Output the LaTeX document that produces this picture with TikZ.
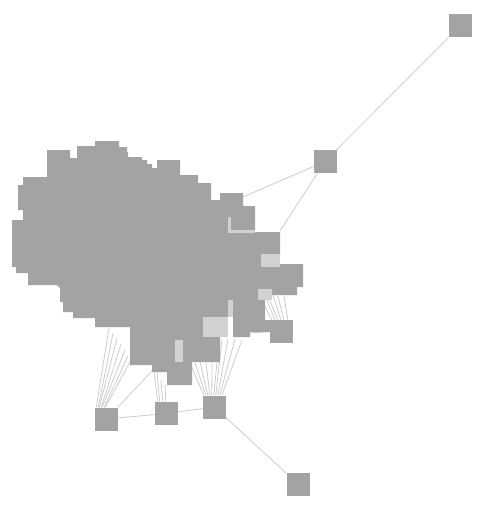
\documentclass[tikz,border=0pt]{standalone}
\begin{document}
\begin{tikzpicture}[x=1pt,y=-1pt,
  vertex/.style={rectangle,fill=nodegray,draw=none,inner sep=0pt,minimum size=23pt},
  link/.style={draw=edgegray,line width=0.8pt},
  patch/.style={fill=patchgray,draw=none}]
\definecolor{nodegray}{HTML}{A3A3A3}
\definecolor{edgegray}{HTML}{CCCCCC}
\definecolor{patchgray}{HTML}{D2D2D2}
\useasboundingbox (0,0) rectangle (481,511);
% separate vertices
\node[vertex] (n1) at (460,26) {};
\node[vertex] (n2) at (325,161.5) {};
\node[vertex] (n7) at (281.5,331.5) {};
\node[vertex] (b1) at (106,419) {};
\node[vertex] (b2) at (166.5,413.5) {};
\node[vertex] (b3) at (214.5,407) {};
\node[vertex] (b4) at (298,484) {};
% anchor points on the cluster
\coordinate (c1) at (243,197);
\coordinate (c2) at (280,231);
\coordinate (l1) at (109,328);
\coordinate (l2) at (113,333);
\coordinate (l3) at (117,338);
\coordinate (l4) at (121,344);
\coordinate (l5) at (125,350);
\coordinate (l6) at (128,356);
\coordinate (l7) at (130,362);
\coordinate (ld) at (152,371);
\coordinate (m1) at (154,372);
\coordinate (m2) at (157,372);
\coordinate (m3) at (161,380);
\coordinate (m4) at (165,384);
\coordinate (r1) at (192,368);
\coordinate (r2) at (195,363);
\coordinate (r3) at (200,362);
\coordinate (r4) at (206,362);
\coordinate (r5) at (212,362);
\coordinate (r6) at (218,352);
\coordinate (r7) at (222,339);
\coordinate (r8) at (228,339);
\coordinate (r9) at (235,339);
\coordinate (r10) at (242,340);
\coordinate (s1) at (260,297);
\coordinate (s2) at (264,293);
\coordinate (s3) at (268,296);
\coordinate (s4) at (272,292);
\coordinate (s5) at (278,296);
\coordinate (s6) at (284,296);
\coordinate (sw) at (250,333);
% connectors
\draw[link] (n1) -- (n2);
\draw[link] (n2) -- (c1);
\draw[link] (n2) -- (c2);
\foreach \i/\d in {1/2,2/4,3/5,4/7,5/8,6/10,7/11}
  \draw[link] ([xshift=\d pt]b1.north west) -- (l\i);
\draw[link] (b1.north east) -- (ld);
\foreach \i/\d in {1/3,2/5,3/8,4/11}
  \draw[link] ([xshift=\d pt]b2.north west) -- (m\i);
\foreach \i/\d in {1/1,2/3,3/5,4/7,5/9,6/11,7/13,8/15,9/17,10/19}
  \draw[link] ([xshift=\d pt]b3.north west) -- (r\i);
\foreach \i/\d in {1/2,2/5,3/8,4/11,5/14,6/18}
  \draw[link] ([xshift=\d pt]n7.north west) -- (s\i);
\draw[link] (n7.west) -- (sw);
\draw[link] (b1) -- (b2);
\draw[link] (b2) -- (b3);
\draw[link] (b3) -- (b4);
% the dense cluster of overlapping vertices
\fill[nodegray] (47,150) -- (70,150) -- (70,158) -- (77,158) -- (77,146) -- (95,146) -- (95,141)
  -- (119,141) -- (119,147) -- (127,147) -- (127,152) -- (128,152) -- (128,157) -- (142,157)
  -- (142,160) -- (147,160) -- (147,164) -- (152,164) -- (152,168) -- (157,168) -- (157,160)
  -- (180,160) -- (180,175) -- (198,175) -- (198,183) -- (211,183) -- (211,200) -- (220,200)
  -- (220,193) -- (243,193) -- (243,206) -- (255,206) -- (255,232) -- (280,232) -- (280,254)
  -- (261,254) -- (261,267) -- (280,267) -- (280,264) -- (303,264) -- (303,287) -- (297,287)
  -- (297,295) -- (272,295) -- (272,289) -- (258,289) -- (258,300) -- (265,300) -- (265,320)
  -- (270,320) -- (270,332) -- (250,332) -- (250,337) -- (233,337) -- (233,300) -- (228,300)
  -- (228,317) -- (203,317) -- (203,337) -- (220,337) -- (220,362) -- (192,362) -- (192,385)
  -- (167,385) -- (167,372) -- (152,372) -- (152,365) -- (130,365) -- (130,327) -- (95,327)
  -- (95,318) -- (73,318) -- (73,312) -- (63,312) -- (63,302) -- (60,302) -- (60,288)
  -- (57,285) -- (28,285) -- (28,273) -- (16,273) -- (16,267) -- (12,267) -- (12,220)
  -- (23,220) -- (23,210) -- (18,210) -- (18,185) -- (23,185) -- (23,177) -- (47,177) -- cycle;
% lighter patches where edges crowd
\fill[patch] (261,254) rectangle (280,267);
\fill[patch] (258,289) rectangle (272,300);
\fill[patch] (203,317) rectangle (228,337);
\fill[patch] (228,300) rectangle (233,317);
\fill[patch] (175,340) rectangle (183,362);
\draw[patchgray,line width=3pt] (229.5,217) -- (229.5,231) -- (255,231);
\end{tikzpicture}
\end{document}
